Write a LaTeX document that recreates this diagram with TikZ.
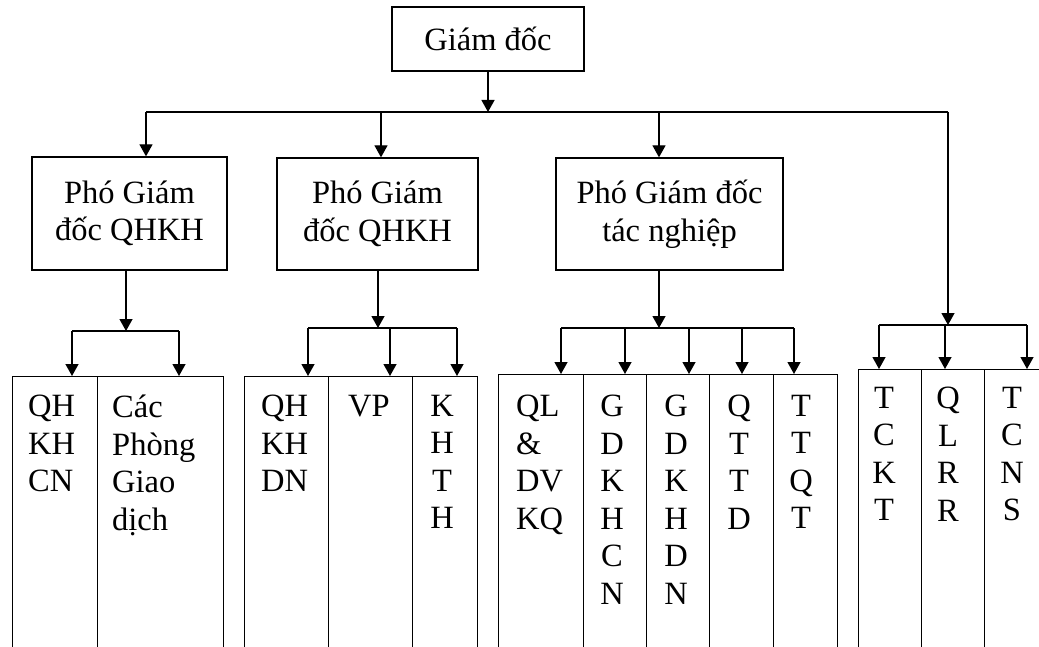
\documentclass[tikz,border=0pt]{standalone}
\usepackage{fontspec}
\setmainfont{Liberation Serif}
\usetikzlibrary{arrows.meta}

\begin{document}
\begin{tikzpicture}[x=1pt, y=-1pt, font=\fontsize{32.5}{37.5}\selectfont]
\useasboundingbox (0, 0) rectangle (1039, 647);
\clip (0, 0) rectangle (1039, 647);

\begin{scope}[every node/.style={shape=rectangle, draw, line width=1.3pt, align=center}]
    \node (gd) at (488, 39) [minimum width=192, minimum height=64] {Giám đốc};

    \node (pgd1) at (129.5, 213.5) [minimum width=195, minimum height=113] {Phó Giám\\đốc QHKH};
    \node (pgd2) at (377.5, 214) [minimum width=201, minimum height=112] {Phó Giám\\đốc QHKH};
    \node (pgd3) at (669.5, 214) [minimum width=227, minimum height=112] {Phó Giám đốc\\tác nghiệp};
\end{scope}

% columns, open at the bottom
\begin{scope}[every node/.style={shape=rectangle, draw, line width=1.3pt, anchor=north west, minimum height=300}]
    \node (qhkhcn) at (12, 376) [minimum width=85] {};
    \node (cpgd) at (97, 376) [minimum width=126] {};

    \node (qhkhdn) at (244, 376) [minimum width=84] {};
    \node (vp) at (328, 376) [minimum width=84] {};
    \node (khth) at (412, 376) [minimum width=65] {};

    \node (qldvkq) at (498, 374) [minimum width=85] {};
    \node (gdkhcn) at (583, 374) [minimum width=63] {};
    \node (gdkhdn) at (646, 374) [minimum width=63] {};
    \node (qttd) at (709, 374) [minimum width=64] {};
    \node (ttqt) at (773, 374) [minimum width=64] {};

    \node (tckt) at (858, 369) [minimum width=63] {};
    \node (qlrr) at (921, 369) [minimum width=63] {};
    \node (tcns) at (984, 369) [minimum width=70] {};
\end{scope}

\begin{scope}[every node/.style={inner sep=0, align=left, anchor=north west}]
    \node (qhkhcntext) at (28, 395) {QH\\KH\\CN};
    \node (cpgdtext) at (112, 395) {Các\\Phòng\\Giao\\dịch};
    \node (qhkhdntext) at (261, 395) {QH\\KH\\DN};
    \node (vptext) at (348, 395) {VP};
    \node (qldvkqtext) at (516, 395) {QL\\\&\\DV\\KQ};
\end{scope}

\begin{scope}[every node/.style={inner sep=0, align=center, anchor=north}]
    \node (khthtext) at (442, 395) {K\\H\\T\\H};
    \node (gdkhcntext) at (612, 395) {G\\D\\K\\H\\C\\N};
    \node (gdkhdntext) at (676, 395) {G\\D\\K\\H\\D\\N};
    \node (qttdtext) at (739, 395) {Q\\T\\T\\D};
    \node (ttqttext) at (801, 395) {T\\T\\Q\\T};
    \node (tckttext) at (884, 387) {T\\C\\K\\T};
    \node (qlrrtext) at (948, 387) {Q\\L\\R\\R};
    \node (tcnstext) at (1012, 387) {T\\C\\N\\S};
\end{scope}

% junctions on the bars
\coordinate (top) at (488, 112);
\coordinate (t1) at (146, 112);
\coordinate (t2) at (381, 112);
\coordinate (t3) at (659, 112);
\coordinate (t4) at (948, 112);

\coordinate (m1) at (126, 331);
\coordinate (m1a) at (72, 331);
\coordinate (m1b) at (179, 331);

\coordinate (m2) at (378, 328);
\coordinate (m2a) at (308, 328);
\coordinate (m2b) at (390, 328);
\coordinate (m2c) at (457, 328);

\coordinate (m3) at (659, 328);
\coordinate (m3a) at (561, 328);
\coordinate (m3b) at (625, 328);
\coordinate (m3c) at (689, 328);
\coordinate (m3d) at (742, 328);
\coordinate (m3e) at (794, 328);

\coordinate (m4) at (948, 325);
\coordinate (m4a) at (879, 325);
\coordinate (m4b) at (945, 325);
\coordinate (m4c) at (1027, 325);

\begin{scope}[>={Triangle[width=13pt, length=12pt]},
              every edge/.style={draw, line width=1.3pt}]
    \path [->] (gd) edge (top);
    \draw [line width=1.3pt] (t1) -- (t4);
    \path [->] (t1) edge (t1 |- pgd1.north);
    \path [->] (t2) edge (t2 |- pgd2.north);
    \path [->] (t3) edge (t3 |- pgd3.north);
    \path [->] (t4) edge (m4);

    \path [->] (m1 |- pgd1.south) edge (m1);
    \draw [line width=1.3pt] (m1a) -- (m1b);
    \path [->] (m1a) edge (m1a |- qhkhcn.north);
    \path [->] (m1b) edge (m1b |- cpgd.north);

    \path [->] (m2 |- pgd2.south) edge (m2);
    \draw [line width=1.3pt] (m2a) -- (m2c);
    \path [->] (m2a) edge (m2a |- qhkhdn.north);
    \path [->] (m2b) edge (m2b |- vp.north);
    \path [->] (m2c) edge (m2c |- khth.north);

    \path [->] (m3 |- pgd3.south) edge (m3);
    \draw [line width=1.3pt] (m3a) -- (m3e);
    \path [->] (m3a) edge (m3a |- qldvkq.north);
    \path [->] (m3b) edge (m3b |- gdkhcn.north);
    \path [->] (m3c) edge (m3c |- gdkhdn.north);
    \path [->] (m3d) edge (m3d |- qttd.north);
    \path [->] (m3e) edge (m3e |- ttqt.north);

    \draw [line width=1.3pt] (m4a) -- (m4c);
    \path [->] (m4a) edge (m4a |- tckt.north);
    \path [->] (m4b) edge (m4b |- qlrr.north);
    \path [->] (m4c) edge (m4c |- tcns.north);
\end{scope}
\end{tikzpicture}
\end{document}
